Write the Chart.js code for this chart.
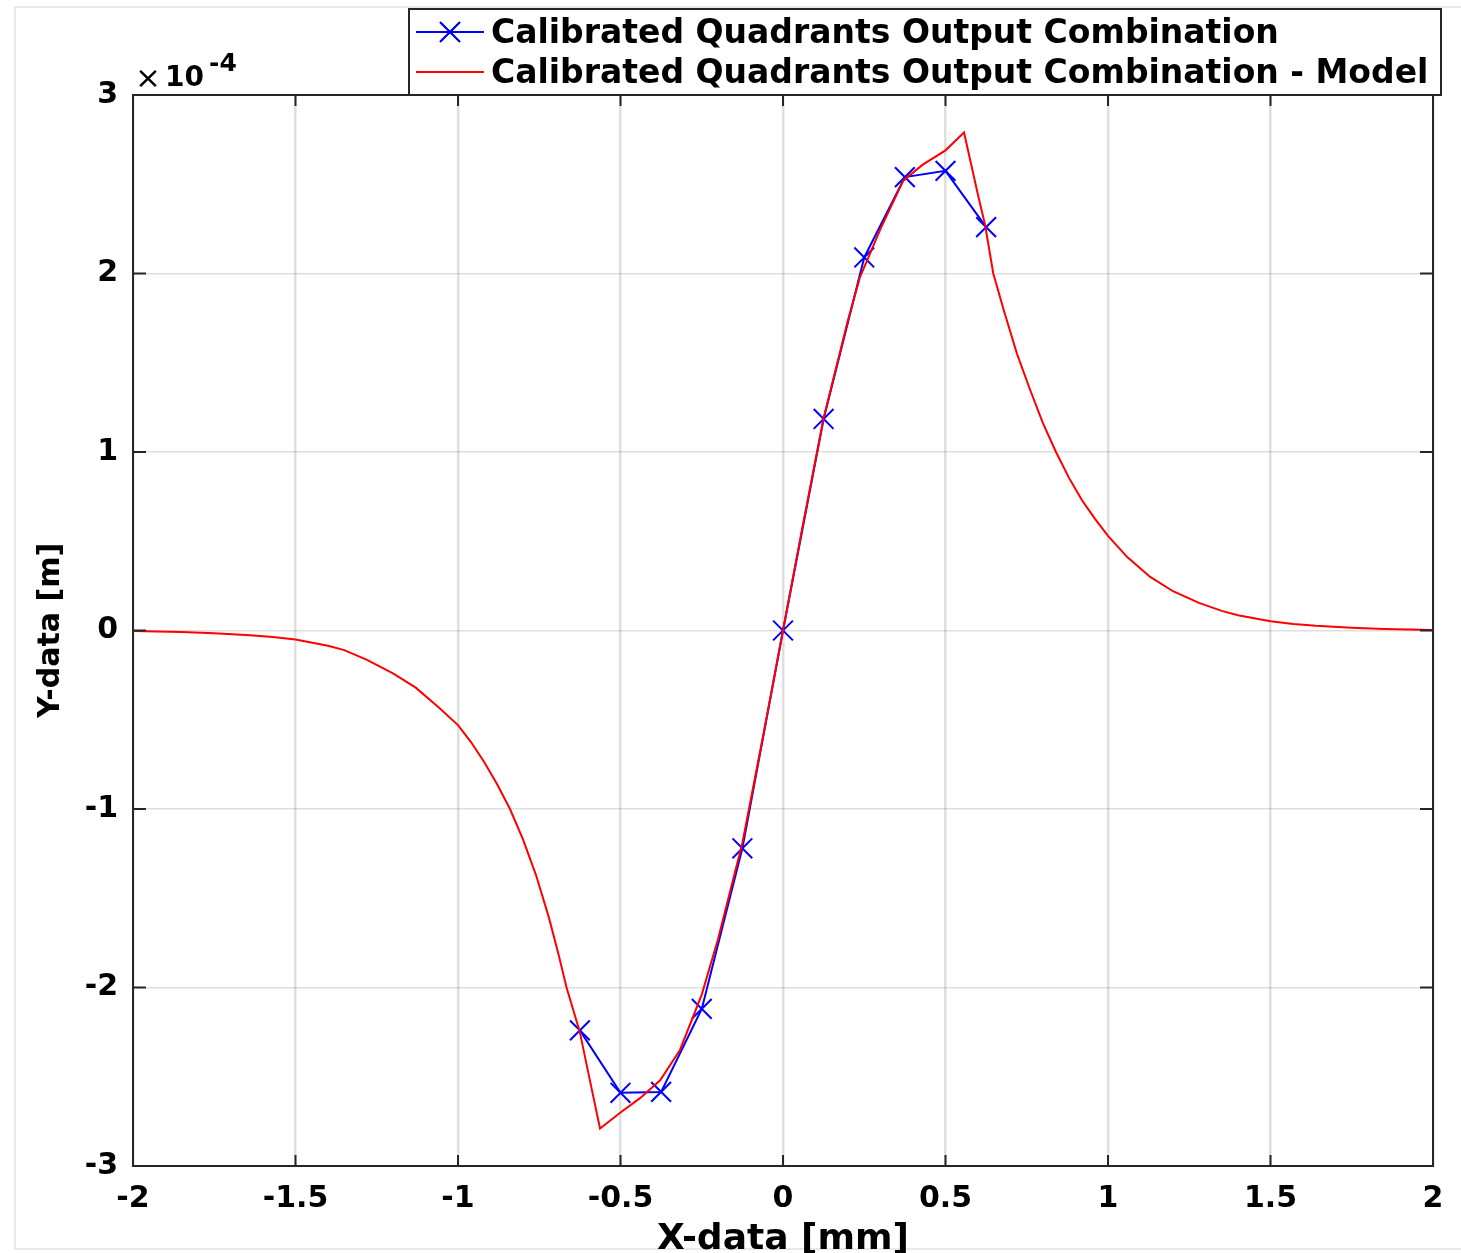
<!DOCTYPE html>
<html>
<head>
<meta charset="utf-8">
<script src="https://cdn.jsdelivr.net/npm/chart.js@4.4.0/dist/chart.umd.min.js"></script>
<style>
  html, body { margin: 0; padding: 0; background: #fff; }
  #wrap { width: 1461px; height: 1253px; }
</style>
</head>
<body>
<div id="wrap"><canvas id="chart" width="1461" height="1253"></canvas></div>
<script>
// values, y in units of 1e-4 m
const seriesNames = [
  'Calibrated Quadrants Output Combination',
  'Calibrated Quadrants Output Combination - Model'
];
const measuredX = [-0.625, -0.5, -0.375, -0.25, -0.125, 0, 0.125, 0.25, 0.375, 0.5, 0.625];
const measuredY = [-2.24, -2.59, -2.585, -2.12, -1.22, 0, 1.185, 2.09, 2.54, 2.575, 2.26];

const modelX = [-2.0, -1.85, -1.75, -1.64, -1.57, -1.5, -1.4, -1.35, -1.28, -1.2, -1.13, -1.06, -1.0,
  -0.96, -0.92, -0.88, -0.84, -0.8, -0.76, -0.72, -0.69, -0.666, -0.625, -0.6, -0.563,
  -0.5, -0.44, -0.378, -0.317, -0.25, -0.2, -0.125, -0.06, 0,
  0.06, 0.125, 0.2, 0.237, 0.3, 0.37, 0.43, 0.5, 0.557, 0.6, 0.622, 0.647, 0.68, 0.72,
  0.76, 0.8, 0.84, 0.88, 0.92, 0.96, 1.0, 1.06, 1.13, 1.2, 1.28, 1.35, 1.4, 1.5, 1.57,
  1.64, 1.75, 1.85, 2.0];
const modelY = [-0.003, -0.009, -0.015, -0.026, -0.037, -0.05, -0.085, -0.11, -0.165, -0.24, -0.32, -0.43, -0.53,
  -0.625, -0.735, -0.86, -1.0, -1.17, -1.37, -1.61, -1.82, -2.0, -2.25, -2.47, -2.79,
  -2.70, -2.62, -2.52, -2.35, -2.04, -1.73, -1.19, -0.58, 0,
  0.58, 1.19, 1.74, 1.98, 2.25, 2.52, 2.61, 2.69, 2.79, 2.44, 2.27, 2.0, 1.79, 1.55,
  1.35, 1.16, 1.0, 0.855, 0.73, 0.625, 0.53, 0.41, 0.30, 0.22, 0.155, 0.11, 0.085, 0.052, 0.037,
  0.026, 0.015, 0.009, 0.003];

const xTicks = [-2, -1.5, -1, -0.5, 0, 0.5, 1, 1.5, 2];
const yTicks = [-3, -2, -1, 0, 1, 2, 3];
const xTitle = 'X-data [mm]';
const yTitle = 'Y-data [m]';
const yExponent = '-4';

const FONT = "'DejaVu Sans', sans-serif";
const AXIS_COLOR = '#262626';

function toPoints(xs, ys) {
  return xs.map((x, i) => ({x: x, y: ys[i]}));
}

// box, inward ticks, exponent label, legend and figure edge
const matlabFrame = {
  id: 'matlabFrame',
  beforeDraw(chart) {
    const ctx = chart.ctx;
    ctx.save();
    ctx.strokeStyle = '#e2e2e2';
    ctx.lineWidth = 1.5;
    ctx.strokeRect(15, 7, chart.width + 20, 1242);
    ctx.restore();
  },
  afterDraw(chart) {
    const ctx = chart.ctx;
    const area = chart.chartArea;
    const xs = chart.scales.x;
    const ys = chart.scales.y;
    ctx.save();
    ctx.strokeStyle = AXIS_COLOR;
    ctx.lineWidth = 2;
    ctx.strokeRect(area.left, area.top, area.right - area.left, area.bottom - area.top);

    ctx.beginPath();
    xTicks.forEach(v => {
      const px = xs.getPixelForValue(v);
      ctx.moveTo(px, area.bottom); ctx.lineTo(px, area.bottom - 11);
      ctx.moveTo(px, area.top); ctx.lineTo(px, area.top + 11);
    });
    yTicks.forEach(v => {
      const py = ys.getPixelForValue(v);
      ctx.moveTo(area.left, py); ctx.lineTo(area.left + 13, py);
      ctx.moveTo(area.right, py); ctx.lineTo(area.right - 13, py);
    });
    ctx.stroke();

    // x10^-4
    ctx.fillStyle = '#000';
    ctx.textBaseline = 'alphabetic';
    ctx.textAlign = 'left';
    ctx.font = '31px ' + FONT;
    ctx.fillText('\u00d7', 135, 88);
    ctx.font = 'bold 28px ' + FONT;
    ctx.fillText('10', 165, 86);
    ctx.font = 'bold 25px ' + FONT;
    ctx.fillText(yExponent, 209, 71);

    // legend
    const box = {left: 409, top: 9, right: 1441, bottom: 95};
    ctx.fillStyle = '#fff';
    ctx.fillRect(box.left, box.top, box.right - box.left, box.bottom - box.top);
    ctx.strokeStyle = AXIS_COLOR;
    ctx.lineWidth = 2;
    ctx.strokeRect(box.left, box.top, box.right - box.left, box.bottom - box.top);
    const rows = [32, 72];
    chart.data.datasets.forEach((ds, i) => {
      const y = rows[i];
      ctx.strokeStyle = ds.borderColor;
      ctx.lineWidth = 2;
      ctx.beginPath();
      ctx.moveTo(416, y); ctx.lineTo(484, y);
      ctx.stroke();
      if (ds.pointRadius > 0) {
        Chart.helpers.drawPoint(ctx, {
          pointStyle: ds.pointStyle, radius: ds.pointRadius, rotation: 0, borderWidth: 2
        }, 450, y);
        ctx.stroke();
      }
      ctx.fillStyle = '#000';
      ctx.font = 'bold 33px ' + FONT;
      ctx.fillText(ds.label, 491, y + 11);
    });
    ctx.restore();
  }
};

new Chart(document.getElementById('chart'), {
  type: 'scatter',
  data: {
    datasets: [
      {
        label: seriesNames[0],
        data: toPoints(measuredX, measuredY),
        showLine: true,
        borderColor: '#0000ff',
        backgroundColor: '#0000ff',
        borderWidth: 2,
        pointStyle: 'crossRot',
        pointRadius: 14,
        pointBorderWidth: 2,
        tension: 0,
        order: 1
      },
      {
        label: seriesNames[1],
        data: toPoints(modelX, modelY),
        showLine: true,
        borderColor: '#ff0000',
        backgroundColor: '#ff0000',
        borderWidth: 2,
        pointRadius: 0,
        tension: 0,
        order: 0
      }
    ]
  },
  options: {
    responsive: false,
    animation: false,
    devicePixelRatio: 1,
    layout: {padding: {top: 95, right: 28, left: 0, bottom: 0}},
    plugins: {
      legend: {display: false},
      tooltip: {enabled: false}
    },
    scales: {
      x: {
        type: 'linear',
        min: -2,
        max: 2,
        afterBuildTicks: s => { s.ticks = xTicks.map(v => ({value: v})); },
        afterFit: s => { s.height = 87; },
        border: {display: false},
        grid: {color: 'rgba(38,38,38,0.15)', lineWidth: 2.5, drawTicks: false},
        ticks: {
          padding: 15,
          color: '#000',
          font: {family: FONT, size: 30, weight: 'bold'},
          maxRotation: 0,
          callback: v => String(v)
        },
        title: {
          display: true,
          text: xTitle,
          color: '#000',
          font: {family: FONT, size: 36, weight: 'bold', lineHeight: 1},
          padding: {top: 0, bottom: -5}
        }
      },
      y: {
        type: 'linear',
        min: -3,
        max: 3,
        afterBuildTicks: s => { s.ticks = yTicks.map(v => ({value: v})); },
        afterFit: s => { s.width = 133; },
        border: {display: false},
        grid: {color: 'rgba(38,38,38,0.15)', lineWidth: 1.6, drawTicks: false},
        ticks: {
          padding: 15,
          color: '#000',
          font: {family: FONT, size: 30, weight: 'bold'},
          callback: v => String(v)
        },
        title: {
          display: true,
          text: yTitle,
          color: '#000',
          font: {family: FONT, size: 30, weight: 'bold', lineHeight: 1},
          padding: {top: 36, bottom: 0}
        }
      }
    }
  },
  plugins: [matlabFrame]
});
</script>
</body>
</html>
